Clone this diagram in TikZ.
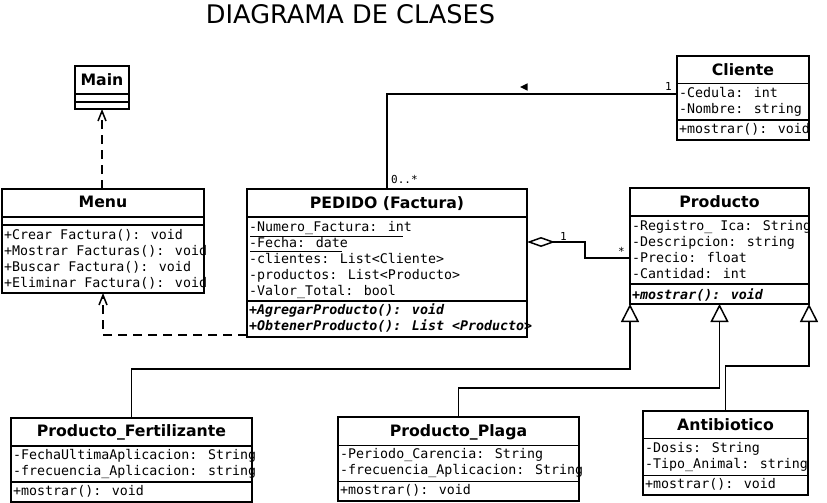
\documentclass[tikz,border=0pt]{standalone}
\usepackage{fontspec}
\setmainfont{DejaVu Sans}
\newfontfamily\monof{DejaVu Sans Mono}
\usetikzlibrary{arrows.meta,calc}
\tikzset{
 box/.style={draw, line width=1.5pt, inner sep=0pt, outer sep=0pt, anchor=north west},
 sepline/.style={line width=1.5pt},
 uline/.style={line width=0.9pt},
 ctitle/.style={font=\bfseries\fontsize{15.7}{18}\selectfont, inner sep=0pt, anchor=base},
 attr/.style={font=\monof\fontsize{13.3}{16}\selectfont, inner sep=0pt, anchor=base west},
 meth/.style={attr, font=\monof\bfseries\itshape\fontsize{13.3}{16}\selectfont},
 mult/.style={font=\monof\fontsize{11}{12}\selectfont, inner sep=0pt, anchor=base west},
 conn/.style={line width=1.5pt},
 dep/.style={conn, dash pattern=on 9pt off 6pt, -{Straight Barb[length=10pt,width=8pt]}},
 gen/.style={conn, -{Triangle[open, length=18pt, width=18pt, fill=white]}},
 agg/.style={conn, {Diamond[open, length=28pt, width=10pt, fill=white]}-},
}
\newcommand\classsep[2]{\draw[sepline] ($(#1.north west)+(0,#2)$) -- ($(#1.north east)+(0,#2)$);}
\begin{document}
\begin{tikzpicture}[x=1pt,y=-1pt]
\useasboundingbox (0,0) rectangle (827,503);
\fill[white] (0,0) rectangle (827,503);

% title
\node[font=\fontsize{25.6}{30}\selectfont, inner sep=0pt, anchor=base] (title) at (350.5,24) {DIAGRAMA DE CLASES};

% Main
\node[box, minimum width=54pt, minimum height=43pt] (main) at (75,66) {};
\classsep{main}{28}\classsep{main}{36}
\node[ctitle] (mainT) at (102,85) {Main};

% Menu
\node[box, minimum width=202pt, minimum height=104pt] (menu) at (2,189) {};
\classsep{menu}{28}\classsep{menu}{36}
\node[ctitle] (menuT) at (103,207.7) {Menu};
\node[attr] (menuM1) at (4,239.5) {+Crear Factura(): void};
\node[attr] (menuM2) at (4,255.5) {+Mostrar Facturas(): void};
\node[attr] (menuM3) at (4,271.5) {+Buscar Factura(): void};
\node[attr] (menuM4) at (4,287.5) {+Eliminar Factura(): void};

% PEDIDO
\node[box, minimum width=280pt, minimum height=148pt] (pedido) at (247,189) {};
\classsep{pedido}{28}\classsep{pedido}{112}
\node[ctitle] (pedidoT) at (387,208.3) {PEDIDO (Factura)};
\node[attr] (pedA1) at (249,231.5) {-Numero\_Factura: int};
\node[attr] (pedA2) at (249,247.5) {-Fecha: date};
\node[attr] (pedA3) at (249,263.5) {-clientes: List<Cliente>};
\node[attr] (pedA4) at (249,279.5) {-productos: List<Producto>};
\node[attr] (pedA5) at (249,295.5) {-Valor\_Total: bool};
\node[meth] (pedM1) at (249,314.5) {+AgregarProducto(): void};
\node[meth] (pedM2) at (249,330.5) {+ObtenerProducto(): List <Producto>};
\draw[uline] (250,236.7) -- (403,236.7);
\draw[uline] (250,251.7) -- (342,251.7);

% Producto
\node[box, minimum width=179pt, minimum height=116pt] (producto) at (630,188) {};
\classsep{producto}{28}\classsep{producto}{96}
\node[ctitle] (productoT) at (719.5,207.7) {Producto};
\node[attr] (prodA1) at (632,230.7) {-Registro\_ Ica: String};
\node[attr] (prodA2) at (632,246.7) {-Descripcion: string};
\node[attr] (prodA3) at (632,262.7) {-Precio: float};
\node[attr] (prodA4) at (632,278.7) {-Cantidad: int};
\node[meth] (prodM1) at (632,299) {+mostrar(): void};

% Cliente
\node[box, minimum width=132pt, minimum height=84pt] (cliente) at (677,56) {};
\classsep{cliente}{27.5}\classsep{cliente}{64}
\node[ctitle] (clienteT) at (743,75) {Cliente};
\node[attr] (cliA1) at (679,97.7) {-Cedula: int};
\node[attr] (cliA2) at (679,113.7) {-Nombre: string};
\node[attr] (cliM1) at (679,133.3) {+mostrar(): void};

% Producto_Fertilizante
\node[box, minimum width=241pt, minimum height=84pt] (fert) at (11,418) {};
\classsep{fert}{28}\classsep{fert}{64}
\node[ctitle] (fertT) at (131.5,436.7) {Producto\_Fertilizante};
\node[attr] (fertA1) at (13,459.3) {-FechaUltimaAplicacion: String};
\node[attr] (fertA2) at (13,475.3) {-frecuencia\_Aplicacion: string};
\node[attr] (fertM1) at (13,495) {+mostrar(): void};

% Producto_Plaga
\node[box, minimum width=241pt, minimum height=84pt] (plaga) at (338,417) {};
\classsep{plaga}{28.5}\classsep{plaga}{64.5}
\node[ctitle] (plagaT) at (458.5,436) {Producto\_Plaga};
\node[attr] (plagaA1) at (340,458.5) {-Periodo\_Carencia: String};
\node[attr] (plagaA2) at (340,474.5) {-frecuencia\_Aplicacion: String};
\node[attr] (plagaM1) at (340,494) {+mostrar(): void};

% Antibiotico
\node[box, minimum width=165pt, minimum height=84pt] (antib) at (643,411) {};
\classsep{antib}{27.3}\classsep{antib}{64.7}
\node[ctitle] (antibT) at (725.5,430) {Antibiotico};
\node[attr] (antibA1) at (645,452.7) {-Dosis: String};
\node[attr] (antibA2) at (645,468.7) {-Tipo\_Animal: string};
\node[attr] (antibM1) at (645,488.3) {+mostrar(): void};

% connectors
\draw[dep] (main.south |- menu.north) -- (main.south);
\coordinate (pedDep) at ($(pedido.south west)+(0,-2)$);
\draw[dep] (pedDep) -| (menu.south);

\coordinate (cliA) at ($(cliente.north west)+(0,38)$);
\draw[conn] (cliA) -| (pedido.north);
\fill (520,87) -- (527.5,83.3) -- (527.5,90.7) -- cycle;
\node[mult] (m1) at (665,90) {1};
\node[mult] (m2) at (391,183.3) {0..*};

\coordinate (pedB) at ($(pedido.north east)+(0,53)$);
\coordinate (prodA) at ($(producto.north west)+(0,70)$);
\draw[agg] (pedB) -- ++(58,0) |- (prodA);
\node[mult] (m3) at (560,240) {1};
\node[mult] (m4) at (618,255) {*};

\draw[gen] (fert.north) -- ++(0,-49) -| (producto.south west);
\draw[gen] (plaga.north) -- ++(0,-29) -| (producto.south);
\draw[gen] (antib.north) -- ++(0,-45) -| (producto.south east);
\end{tikzpicture}
\end{document}
